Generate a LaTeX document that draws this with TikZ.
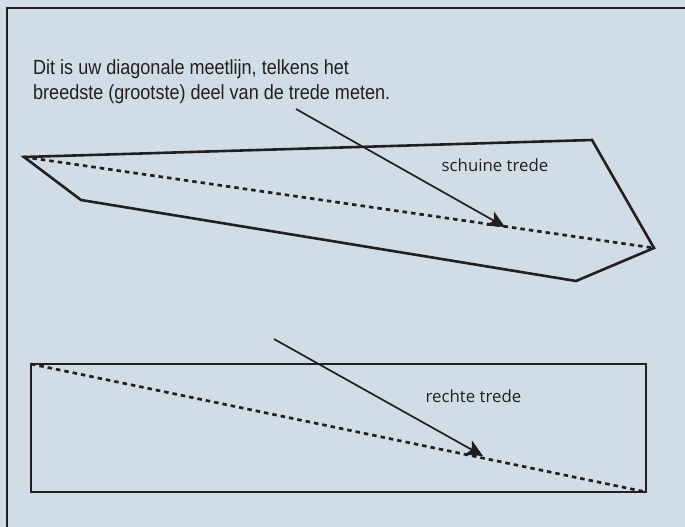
\documentclass[tikz,border=0pt]{standalone}
\usepackage{fontspec}
\usetikzlibrary{arrows.meta}
\newfontfamily\condfont[FakeStretch=0.88]{Liberation Sans}
\newfontfamily\labelfont{Open Sans}
\definecolor{bgblue}{RGB}{208,221,230}
\definecolor{ink}{RGB}{35,31,32}
\tikzset{
  stairline/.style={draw=ink, line width=2.6pt, line join=miter},
  measureline/.style={draw=ink, line width=2.7pt, dash pattern=on 4.5pt off 4pt},
  pointer/.style={draw=ink, line width=1.7pt, -{Stealth[length=17pt, width=16pt, inset=4pt]}},
  frameline/.style={draw=ink, line width=2.7pt},
  note/.style={font=\condfont\fontsize{20.5pt}{25pt}\selectfont, text=ink, inner sep=0pt, anchor=base west},
  steplabel/.style={font=\labelfont\fontsize{16.8pt}{20pt}\selectfont, text=ink, inner sep=0pt, anchor=base west}
}
\begin{document}
\begin{tikzpicture}[x=1pt, y=-1pt]
  \fill[bgblue] (0,0) rectangle (685,527);
  \useasboundingbox (0,0) rectangle (685,527);
  % outer frame (extends beyond the right and bottom edges)
  \coordinate (fbl) at (7,540);
  \coordinate (ftl) at (7,8);
  \coordinate (ftr) at (700,8);
  \draw[frameline] (fbl) -- (ftl) -- (ftr);
  % explanatory text
  \node[note] (line1) at (33,74.5) {Dit is uw diagonale meetlijn, telkens het};
  \node[note] (line2) at (33,99.3) {breedste (grootste) deel van de trede meten.};
  % slanted step
  \coordinate (a1) at (24,157);
  \coordinate (a2) at (592,140);
  \coordinate (a3) at (654,248);
  \coordinate (a4) at (576,281);
  \coordinate (a5) at (81,200);
  \draw[stairline] (a1) -- (a2) -- (a3) -- (a4) -- (a5) -- cycle;
  \draw[measureline] (a1) -- (a3);
  \node[steplabel] (schuin) at (441.5,171) {schuine trede};
  \coordinate (p1s) at (296,109);
  \coordinate (p1e) at (505,227);
  \draw[pointer] (p1s) -- (p1e);
  % straight step
  \coordinate (b1) at (31,364);
  \coordinate (b2) at (646,364);
  \coordinate (b3) at (646,492);
  \coordinate (b4) at (31,492);
  \draw[stairline] (b1) -- (b2) -- (b3) -- (b4) -- cycle;
  \draw[measureline] (b1) -- (b3);
  \node[steplabel] (recht) at (425.5,402.5) {rechte trede};
  \coordinate (p2s) at (274,339);
  \coordinate (p2e) at (483,456);
  \draw[pointer] (p2s) -- (p2e);
\end{tikzpicture}
\end{document}
